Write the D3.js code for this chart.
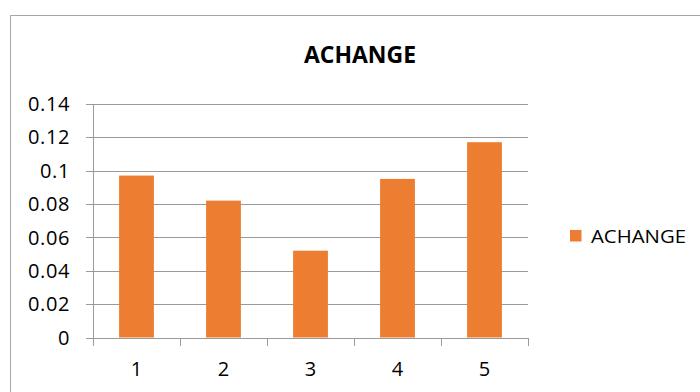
<!DOCTYPE html>
<html><head><meta charset="utf-8">
<script src="https://cdn.jsdelivr.net/npm/d3@7"></script>
<style>body{margin:0;background:#fff}svg{display:block}</style>
</head><body>
<script>
const categories = ["1","2","3","4","5"];
const values = [0.097, 0.082, 0.052, 0.095, 0.117];
const yTicks = [0, 0.02, 0.04, 0.06, 0.08, 0.1, 0.12, 0.14];
const seriesName = "ACHANGE";
const title = "ACHANGE";

const W = 700, H = 392;
const svg = d3.select("body").append("svg").attr("width", W).attr("height", H);
const font = "'Open Sans', sans-serif";

svg.append("rect").attr("x", 10.5).attr("y", 15.5).attr("width", 700).attr("height", 400)
  .attr("fill", "#fff").attr("stroke", "#a6a6a6").attr("stroke-width", 1);

const x = d3.scaleBand().domain(categories).range([93, 528]).paddingInner(0.6).paddingOuter(0.3);
const y = d3.scaleLinear().domain([0, 0.14]).range([337.5, 103.8]);

// gridlines
svg.append("g").selectAll("line").data(yTicks).join("line")
  .attr("x1", 86).attr("x2", 528)
  .attr("y1", d => Math.round(y(d)) + 0.5).attr("y2", d => Math.round(y(d)) + 0.5)
  .attr("stroke", "#9a9a9a").attr("stroke-width", 1);

// y axis line
svg.append("line").attr("x1", 93.5).attr("x2", 93.5).attr("y1", Math.round(y(0.14))).attr("y2", Math.round(y(0)) + 8)
  .attr("stroke", "#9a9a9a");

// y labels
svg.append("g").selectAll("text").data(yTicks).join("text")
  .attr("x", 70).attr("y", d => y(d)).attr("dy", "0.36em")
  .attr("text-anchor", "end").attr("font-family", font).attr("font-size", 20).attr("fill", "#000")
  .attr("letter-spacing", 0.6)
  .text(d => d3.format("")(+d.toFixed(2)));

// bars
svg.append("g").selectAll("rect").data(values).join("rect")
  .attr("x", (d, i) => x(categories[i])).attr("width", x.bandwidth())
  .attr("y", d => y(d)).attr("height", d => y(0) - y(d))
  .attr("fill", "#ED7D31");

// x axis line + ticks
svg.append("line").attr("x1", 93).attr("x2", 528.5).attr("y1", Math.round(y(0)) + 0.5).attr("y2", Math.round(y(0)) + 0.5)
  .attr("stroke", "#9a9a9a");
const bounds = d3.range(categories.length + 1).map(i => 93 + i * (435 / categories.length));
svg.append("g").selectAll("line").data(bounds).join("line")
  .attr("x1", d => Math.round(d) + 0.5).attr("x2", d => Math.round(d) + 0.5)
  .attr("y1", Math.round(y(0))).attr("y2", Math.round(y(0)) + 8)
  .attr("stroke", "#9a9a9a");

// x labels
svg.append("g").selectAll("text").data(categories).join("text")
  .attr("x", d => x(d) + x.bandwidth() / 2).attr("y", 376)
  .attr("text-anchor", "middle").attr("font-family", font).attr("font-size", 20).attr("fill", "#000")
  .text(d => d);

// title
svg.append("text").attr("x", 360).attr("y", 62.5).attr("text-anchor", "middle")
  .attr("font-family", font).attr("font-weight", "bold").attr("font-size", 22.5).attr("fill", "#000")
  .attr("textLength", 112).attr("lengthAdjust", "spacingAndGlyphs")
  .text(title);

// legend
svg.append("rect").attr("x", 570).attr("y", 230).attr("width", 11.5).attr("height", 11.5).attr("fill", "#ED7D31");
svg.append("text").attr("x", 591).attr("y", 242.7).attr("font-family", font).attr("font-size", 17.5)
  .attr("fill", "#000").attr("textLength", 95).attr("lengthAdjust", "spacingAndGlyphs").text(seriesName);
</script>
</body></html>
